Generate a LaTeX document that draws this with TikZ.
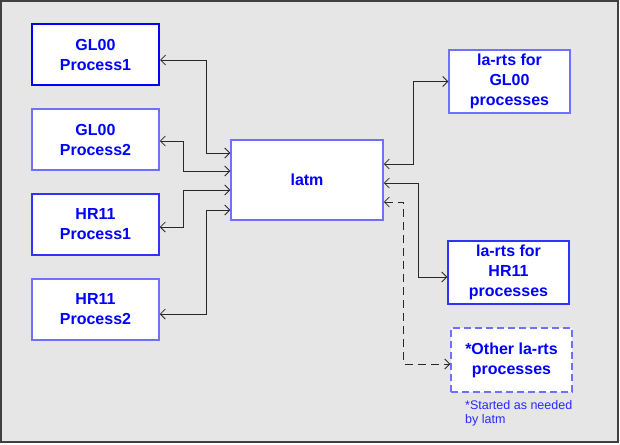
\documentclass[tikz,border=0pt]{standalone}
\usepackage{fontspec}
\setmainfont{Liberation Sans}
\usetikzlibrary{arrows.meta,calc}
\definecolor{bg}{RGB}{230,230,230}
\definecolor{frameedge}{RGB}{64,64,64}
\definecolor{txtblue}{RGB}{0,0,255}
\definecolor{lightedge}{RGB}{112,112,255}
\definecolor{midedge}{RGB}{50,50,255}
\definecolor{notecol}{RGB}{40,40,255}
\definecolor{conncol}{RGB}{40,40,40}
\tikzset{
  procbox/.style={draw=lightedge, line width=1.5pt, fill=white, minimum width=127pt, minimum height=61pt,
    inner sep=0pt, align=center, text=txtblue, font=\bfseries\fontsize{16}{20}\selectfont},
  rtsbox/.style={procbox, minimum width=121pt, minimum height=63pt},
  conn/.style={draw=conncol, line width=0.8pt, {Straight Barb[length=5pt,width=10pt]}-{Straight Barb[length=5pt,width=10pt]}},
}
\begin{document}
\begin{tikzpicture}[x=1pt,y=-1pt]
\useasboundingbox (0,0) rectangle (620,444);
\draw[draw=frameedge, fill=bg, line width=1.5pt] (1,1) rectangle (618,442);

\node[procbox, draw=txtblue, line width=2pt] (gp1) at (95.5,54.5) {GL00\\Process1};
\node[procbox] (gp2) at (95.5,139.5) {GL00\\Process2};
\node[procbox, draw=midedge] (hp1) at (95.5,224.5) {HR11\\Process1};
\node[procbox] (hp2) at (95.5,309.5) {HR11\\Process2};
\node[procbox, minimum width=152pt, minimum height=80pt] (latm) at (307,180) {latm};
\node[rtsbox] (rg) at (509.5,81.5) {la-rts for\\GL00\\processes};
\node[rtsbox, draw=midedge] (rh) at (508.5,272.5) {la-rts for\\HR11\\processes};
\node[rtsbox, minimum height=64pt, dash pattern=on 7pt off 4pt] (ro) at (511.5,360) {*Other la-rts\\processes};
\node[anchor=north west, align=left, inner sep=0pt, text=notecol, font=\fontsize{12.5}{14}\selectfont] (note) at (465,400) {*Started as needed\\by latm};

% entry points on latm
\coordinate (L1) at ([yshift=27pt]latm.west);
\coordinate (L2) at ([yshift=9pt]latm.west);
\coordinate (L3) at ([yshift=-10pt]latm.west);
\coordinate (L4) at ([yshift=-30pt]latm.west);
\coordinate (R1) at ([yshift=16pt]latm.east);
\coordinate (R2) at ([yshift=-3pt]latm.east);
\coordinate (R3) at ([yshift=-22pt]latm.east);

\draw[conn] ([yshift=-5.5pt]gp1.east) -| ([xshift=-24pt]L1) -- (L1);
\draw[conn] ([yshift=-1.5pt]gp2.east) -| ([xshift=-47pt]L2) -- (L2);
\draw[conn] ([yshift=-2.5pt]hp1.east) -| ([xshift=-47pt]L3) -- (L3);
\draw[conn] ([yshift=-4.5pt]hp2.east) -| ([xshift=-24pt]L4) -- (L4);

\draw[conn] (R1) -- ([xshift=30pt]R1) |- (rg.west);
\draw[conn] (R2) -- ([xshift=35pt]R2) |- ([yshift=-4.5pt]rh.west);
\draw[conn, dash pattern=on 8pt off 5pt] (R3) -- ([xshift=20pt]R3) |- ([yshift=-4pt]ro.west);
\end{tikzpicture}
\end{document}
